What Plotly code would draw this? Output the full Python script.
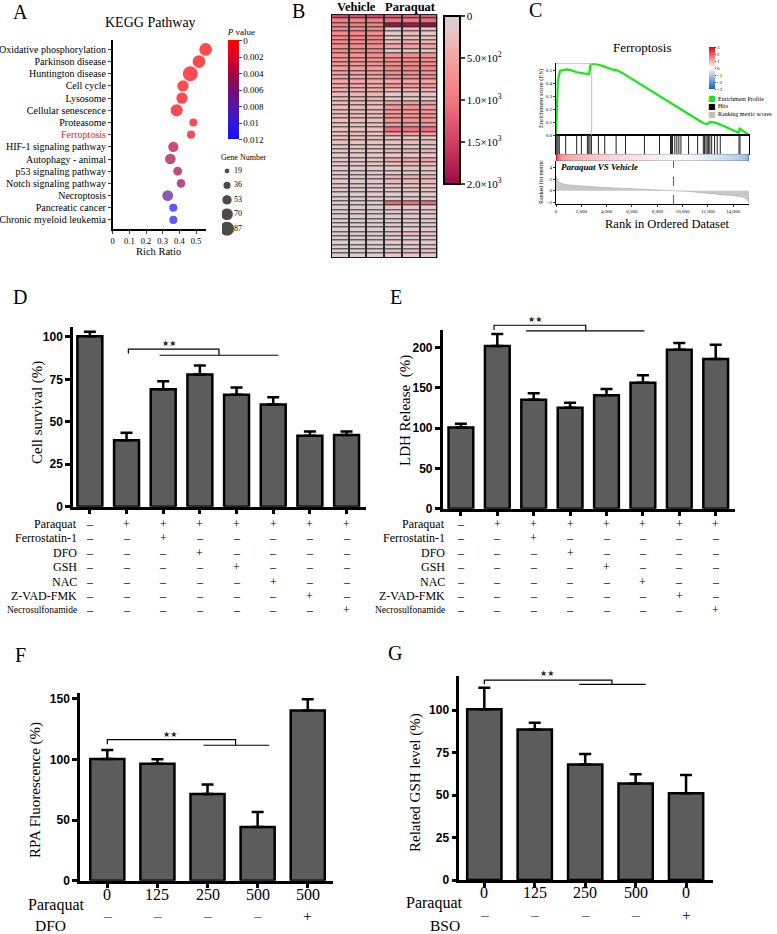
import plotly.graph_objects as go

W, H = 777, 934
SERIF = "Liberation Serif, Times New Roman, serif"
SANS = "Liberation Sans, Arial, sans-serif"


def fx(px):
    return px / W


def fy(py):
    return 1 - py / H


# ---------------- A: KEGG pathway enrichment ----------------
pathways = ["Oxidative phosphorylation", "Parkinson disease", "Huntington disease",
            "Cell cycle", "Lysosome", "Cellular senescence", "Proteasome", "Ferroptosis",
            "HIF-1 signaling pathway", "Autophagy - animal", "p53 signaling pathway",
            "Notch signaling pathway", "Necroptosis", "Pancreatic cancer",
            "Chronic myeloid leukemia"]
rich_ratio = [0.558, 0.518, 0.466, 0.422, 0.416, 0.384, 0.484, 0.47,
              0.364, 0.346, 0.39, 0.41, 0.33, 0.364, 0.364]
gene_number = [70, 70, 87, 60, 60, 66, 36, 36, 52, 55, 42, 40, 56, 36, 36]
p_value = [0.0001, 0.0002, 0.0003, 0.0004, 0.0005, 0.0006, 0.0008, 0.0014,
           0.0036, 0.0042, 0.0042, 0.0050, 0.0075, 0.0112, 0.0114]
gene_legend = [19, 36, 53, 70, 87]
p_ticks = [0, 0.002, 0.004, 0.006, 0.008, 0.01, 0.012]

# ---------------- B: heatmap (Vehicle x3, Paraquat x3) ----------------
vehicle_rows = [
    [1450, 1400, 1450], [950, 900, 950], [880, 900, 850], [850, 820, 860],
    [800, 820, 780], [820, 800, 830], [780, 760, 800], [760, 780, 740],
    [800, 780, 790], [720, 700, 740], [700, 720, 690], [650, 640, 660],
    [600, 620, 580], [560, 540, 580], [520, 500, 540], [480, 500, 460],
    [430, 450, 420], [400, 380, 420], [350, 370, 340], [330, 320, 340],
    [300, 310, 290], [320, 300, 310], [280, 300, 270], [300, 290, 310],
    [260, 280, 250], [250, 240, 260], [270, 260, 250], [240, 250, 230],
    [220, 230, 210], [250, 240, 230], [200, 210, 190], [220, 200, 210],
    [190, 200, 180], [200, 190, 210], [170, 180, 160], [180, 170, 190],
    [150, 160, 140], [160, 150, 170], [140, 150, 130], [150, 140, 160],
    [120, 130, 110], [130, 120, 140], [110, 120, 100], [120, 110, 130],
    [100, 110, 90], [110, 100, 120], [90, 100, 80], [100, 90, 110],
    [80, 90, 70], [90, 80, 100], [70, 80, 60], [80, 70, 90],
    [60, 70, 50], [70, 60, 80], [50, 60, 40], [60, 50, 70]]
paraquat_rows = [
    [1300, 1250, 1300], [1050, 1000, 1100], [1950, 1900, 2000], [200, 350, 250],
    [150, 300, 200], [100, 250, 150], [250, 400, 300], [500, 600, 550],
    [150, 250, 200], [700, 750, 700], [800, 820, 780], [750, 800, 760],
    [850, 900, 860], [700, 720, 680], [800, 780, 820], [500, 550, 520],
    [650, 600, 620], [300, 350, 320], [200, 250, 220], [150, 200, 180],
    [550, 600, 580], [650, 700, 620], [600, 620, 650], [700, 680, 720],
    [650, 700, 680], [600, 650, 620], [1100, 1050, 1100], [550, 600, 580],
    [150, 200, 180], [250, 300, 280], [200, 150, 180], [350, 400, 380],
    [150, 200, 180], [450, 500, 480], [250, 300, 280], [200, 250, 220],
    [150, 180, 160], [350, 400, 380], [300, 350, 320], [120, 150, 130],
    [200, 250, 220], [100, 130, 110], [150, 180, 160], [1100, 1050, 1100],
    [120, 150, 130], [200, 250, 220], [100, 120, 110], [150, 200, 180],
    [80, 100, 90], [120, 150, 130], [200, 250, 220], [80, 100, 90],
    [150, 180, 160], [100, 120, 110], [250, 300, 280], [100, 120, 110]]
heat_ticks = [0, 500, 1000, 1500, 2000]
heat_ticktext = ["0", "5.0×10<sup>2</sup>", "1.0×10<sup>3</sup>",
                 "1.5×10<sup>3</sup>", "2.0×10<sup>3</sup>"]

# ---------------- C: GSEA ferroptosis ----------------
es_rank = [0, 60, 150, 320, 500, 850, 1200, 1600, 2160, 2560, 2620, 2700, 2820,
           3220, 3750, 4400, 4800, 5200, 6500, 7500, 8500, 9500, 10500, 11660,
           11980, 12140, 12590, 13250, 14430, 14510, 15250]
es_score = [0, 0.26, 0.42, 0.495, 0.50, 0.505, 0.498, 0.485, 0.475, 0.47, 0.47,
            0.53, 0.55, 0.545, 0.53, 0.505, 0.50, 0.48, 0.40, 0.34, 0.28, 0.22,
            0.16, 0.09, 0.085, 0.10, 0.095, 0.07, 0.018, 0.05, 0.0]
hit_rank = [0, 80, 160, 260, 765, 1636, 2005, 2480, 2585, 2690, 2797, 3350, 3850,
            4750, 5490, 6990, 8180, 9050, 9130, 9210, 9390, 9550, 9710, 9870,
            10475, 11190, 11640, 11740, 11850, 11950, 12060, 12160, 12300, 12530,
            12740, 12980, 14460, 14540]
metric_rank = [0, 50, 150, 300, 600, 1000, 2000, 3750, 5000, 6400, 8000, 9000,
               9290, 10500, 11660, 12800, 13770, 14400, 14830, 15100, 15250]
metric_value = [2.7, 2.2, 1.7, 1.4, 1.15, 1.0, 0.8, 0.57, 0.45, 0.34, 0.18, 0.06,
                0.0, -0.12, -0.34, -0.55, -0.74, -0.95, -1.14, -1.5, -2.0]
metric_scale_ticks = [3, 2, 1, 0, -1, -2, -3]

# ---------------- D / E: treatments ----------------
treatments = ["Paraquat", "Ferrostatin-1", "DFO", "GSH", "NAC", "Z-VAD-FMK",
              "Necrosulfonamide"]
treatment_matrix = [
    [0, 1, 1, 1, 1, 1, 1, 1],
    [0, 0, 1, 0, 0, 0, 0, 0],
    [0, 0, 0, 1, 0, 0, 0, 0],
    [0, 0, 0, 0, 1, 0, 0, 0],
    [0, 0, 0, 0, 0, 1, 0, 0],
    [0, 0, 0, 0, 0, 0, 1, 0],
    [0, 0, 0, 0, 0, 0, 0, 1]]
cell_survival = [100.4, 39.2, 69.2, 77.8, 65.9, 60.2, 41.8, 42.2]
survival_err = [2.6, 4.3, 4.7, 5.3, 4.3, 4.3, 2.5, 2.1]
ldh_release = [100.8, 201.7, 135.1, 125.2, 140.5, 156.2, 197.1, 185.5]
ldh_err = [4.6, 14.8, 7.9, 6.2, 7.8, 9.1, 8.3, 17.8]

# ---------------- F / G ----------------
dose_f = ["0", "125", "250", "500", "500"]
dfo_f = [0, 0, 0, 0, 1]
rpa_fluor = [100.5, 96.6, 71.6, 44.3, 140.4]
rpa_err = [7.4, 3.6, 7.9, 12.4, 9.3]
dose_g = ["0", "125", "250", "500", "0"]
bso_g = [0, 0, 0, 0, 1]
gsh_level = [100.4, 88.6, 68.0, 56.7, 51.0]
gsh_err = [12.7, 3.9, 6.1, 5.5, 10.8]

# ---------------- traces ----------------
def dot_size(n):
    return 3.2 + n * 0.136


kegg_scale = [[0, "#1010ff"], [0.17, "#3418d8"], [0.33, "#5514a4"], [0.5, "#760c70"],
              [0.67, "#a6063e"], [0.83, "#dc0222"], [1, "#ff0000"]]
heat_scale = [[0, "#990a48"], [0.15, "#bc2a58"], [0.3, "#d84a6a"], [0.5, "#f07882"],
              [0.6, "#f48a8a"], [0.75, "#f4a4a4"], [0.9, "#e6c6c6"], [1, "#d8d2d2"]]
rb_scale = [[0, "#1560c0"], [0.5, "#ffffff"], [1, "#ee0010"]]
GREEN = "#19e619"
BAR = "#5c5c5c"

traces = []
traces.append(go.Scatter(
    x=rich_ratio, y=list(range(len(pathways))), mode="markers", cliponaxis=False,
    marker=dict(size=[dot_size(n) for n in gene_number], color=[-p for p in p_value],
                cmin=-0.012, cmax=0, colorscale=kegg_scale, line=dict(width=0),
                colorbar=dict(x=fx(227.7), xanchor="left", xpad=0, y=fy(82.5), yanchor="middle",
                              ypad=0, len=114, lenmode="pixels", thickness=11, outlinewidth=0,
                              tickvals=[-p for p in p_ticks], ticktext=[f"{p:g}" for p in p_ticks],
                              ticks="outside", ticklen=3, tickfont=dict(family=SERIF, size=9),
                              title=dict(text="<i>P</i> value", side="top",
                                         font=dict(family=SERIF, size=9)))),
    xaxis="x", yaxis="y"))
traces.append(go.Scatter(
    x=[0] * len(gene_legend), y=gene_legend, mode="markers",
    marker=dict(size=[dot_size(n) for n in gene_legend], color="black"),
    xaxis="x2", yaxis="y2"))
traces.append(go.Scatter(
    x=[0.7] * len(gene_legend), y=gene_legend, mode="text",
    text=[str(n) for n in gene_legend], textposition="middle right",
    textfont=dict(family=SERIF, size=8), xaxis="x2", yaxis="y2"))

heat = [v + p for v, p in zip(vehicle_rows, paraquat_rows)]
traces.append(go.Heatmap(
    z=[[-c for c in row] for row in heat], x=list(range(6)), y=list(range(len(heat))),
    zmin=-2000, zmax=0, colorscale=heat_scale, xgap=2, ygap=1,
    colorbar=dict(x=fx(444.3), xanchor="left", xpad=0, y=fy(100), yanchor="middle", ypad=0,
                  len=168, lenmode="pixels", thickness=16, outlinewidth=2, outlinecolor="black",
                  tickvals=[-t for t in heat_ticks], ticktext=heat_ticktext, ticks="outside",
                  ticklen=4, tickwidth=2, tickfont=dict(family=SERIF, size=11)),
    xaxis="x3", yaxis="y3"))

traces.append(go.Scatter(x=es_rank, y=es_score, mode="lines",
                         line=dict(color=GREEN, width=2.2), xaxis="x4", yaxis="y4"))
hx, hy = [], []
for h in hit_rank:
    hx += [h, h, None]
    hy += [0, 1, None]
traces.append(go.Scatter(x=hx, y=hy, mode="lines", line=dict(color="#222222", width=1),
                         xaxis="x5", yaxis="y5"))
traces.append(go.Heatmap(
    x=metric_rank, y=[0, 1], z=[metric_value, metric_value], zmin=-3, zmax=3,
    zsmooth="best", colorscale=rb_scale,
    colorbar=dict(x=fx(708.7), xanchor="left", xpad=0, y=fy(68), yanchor="middle", ypad=0,
                  len=42, lenmode="pixels", thickness=6, outlinewidth=0,
                  tickvals=metric_scale_ticks, ticks="outside", ticklen=1.5,
                  tickfont=dict(family=SERIF, size=5)),
    xaxis="x6", yaxis="y6"))
traces.append(go.Scatter(x=metric_rank, y=metric_value, mode="lines", fill="tozeroy",
                         fillcolor="#c8c8c8", line=dict(color="#a8a8a8", width=0.6),
                         xaxis="x7", yaxis="y7"))


def bar_trace(vals, errs, xa, ya):
    n = len(vals)
    return go.Bar(x=list(range(n)), y=vals, width=0.68,
                  marker=dict(color=BAR, line=dict(color="black", width=2.5)),
                  error_y=dict(type="data", array=errs, arrayminus=[0] * n, symmetric=False,
                               color="black", thickness=2.5, width=6),
                  xaxis=xa, yaxis=ya)


traces.append(bar_trace(cell_survival, survival_err, "x8", "y8"))
traces.append(bar_trace(ldh_release, ldh_err, "x9", "y9"))
traces.append(bar_trace(rpa_fluor, rpa_err, "x10", "y10"))
traces.append(bar_trace(gsh_level, gsh_err, "x11", "y11"))

fig = go.Figure(data=traces)

# ---------------- axes ----------------
hidden = dict(visible=False, showgrid=False, zeroline=False, automargin=False)
thin = dict(showline=True, linecolor="black", showgrid=False, zeroline=False, automargin=False)

# bar panels: (bottom px, top px, range min, range max) of each y axis
bar_geom = {
    "y8": (506.7, 326.7, 0, 106),
    "y9": (508.7, 330, 0, 221.5),
    "y10": (880.7, 693.3, 0, 154.7),
    "y11": (880, 676, 0, 120),
}


def val_to_paper(ya, v):
    bottom, top, r0, r1 = bar_geom[ya]
    return fy(bottom - (v - r0) / (r1 - r0) * (bottom - top))


def bar_x(dom, rng, n, anchor):
    return dict(domain=dom, range=rng, tickvals=list(range(n)), showticklabels=False,
                ticks="outside", ticklen=5, tickwidth=2.5, tickcolor="black", showline=True,
                linecolor="black", linewidth=2.5, showgrid=False, zeroline=False, anchor=anchor,
                automargin=False)


def bar_y(ya, tv, anchor):
    bottom, top, r0, r1 = bar_geom[ya]
    return dict(domain=[fy(bottom), fy(top)], range=[r0, r1], tickvals=tv, ticks="outside",
                ticklen=5, tickwidth=2.5, tickcolor="black", showline=True, linecolor="black",
                linewidth=2.5, showgrid=False, zeroline=False, anchor=anchor, automargin=False,
                tickfont=dict(family=SANS, size=12, weight="bold"))


kegg_labels = [f"<span style='color:#ee1c1c'>{p}</span>" if p == "Ferroptosis" else p
               for p in pathways]

fig.update_layout(
    template="none",
    width=W, height=H, margin=dict(l=0, r=0, t=0, b=0, autoexpand=False), showlegend=False,
    paper_bgcolor="white", plot_bgcolor="white",
    font=dict(family=SERIF, color="black"),
    xaxis=dict(domain=[fx(112.7), fx(206)], range=[0, 0.56],
               tickvals=[0, 0.1, 0.2, 0.3, 0.4, 0.5], ticktext=["0", "0.1", "0.2", "0.3", "0.4", "0.5"],
               ticks="outside", ticklen=3, linewidth=1.5, tickfont=dict(size=8.5), anchor="y", **thin),
    yaxis=dict(domain=[fy(229.3), fy(40)], range=[14.77, -0.77], tickvals=list(range(len(pathways))),
               ticktext=kegg_labels, ticks="outside", ticklen=3, linewidth=1.5,
               tickfont=dict(size=10), anchor="x", **thin),
    xaxis2=dict(domain=[fx(222), fx(262)], range=[-0.5, 3.5], anchor="y2", **hidden),
    yaxis2=dict(domain=[fy(236), fy(164)], range=[95.6, 10.8], anchor="x2", **hidden),
    xaxis3=dict(domain=[fx(331), fx(437.3)], range=[-0.5, 5.5], anchor="y3", **hidden),
    yaxis3=dict(domain=[fy(258), fy(14.3)], range=[len(heat) - 0.5, -0.5], anchor="x3", **hidden),
    xaxis4=dict(domain=[fx(556), fx(749)], range=[0, 15250], showticklabels=False, ticks="",
                linewidth=1, anchor="y4", **thin),
    yaxis4=dict(domain=[fy(135), fy(63.3)], range=[0, 0.552], tickvals=[0, 0.1, 0.2, 0.3, 0.4, 0.5],
                tickformat=".1f", ticks="outside", ticklen=2, linewidth=1,
                tickfont=dict(size=5), anchor="x4", **thin),
    xaxis5=dict(domain=[fx(556), fx(749)], range=[0, 15250], showticklabels=False, ticks="",
                mirror=True, linewidth=0.8, anchor="y5", **thin),
    yaxis5=dict(domain=[fy(154), fy(135)], range=[0, 1], showticklabels=False, ticks="",
                mirror=True, linewidth=0.8, anchor="x5", **thin),
    xaxis6=dict(domain=[fx(556), fx(749)], range=[0, 15250], anchor="y6", **hidden),
    yaxis6=dict(domain=[fy(161), fy(154)], range=[-0.5, 1.5], anchor="x6", **hidden),
    xaxis7=dict(domain=[fx(556), fx(749)], range=[0, 15250], tickvals=list(range(0, 14001, 2000)),
                tickformat=",", ticks="outside", ticklen=2, linewidth=1,
                tickfont=dict(size=5), anchor="y7", **thin),
    yaxis7=dict(domain=[fy(204), fy(161)], range=[-2.3, 5.15], tickvals=[-2, 0, 2, 4],
                ticks="outside", ticklen=2, linewidth=1, tickfont=dict(size=5), anchor="x7", **thin),
    xaxis8=bar_x([fx(73), fx(366)], [-0.46, 7.53], 8, "y8"),
    yaxis8=bar_y("y8", [0, 25, 50, 75, 100], "x8"),
    xaxis9=bar_x([fx(442.7), fx(735)], [-0.5, 7.53], 8, "y9"),
    yaxis9=bar_y("y9", [0, 50, 100, 150, 200], "x9"),
    xaxis10=bar_x([fx(80), fx(333.3)], [-0.545, 4.51], 5, "y10"),
    yaxis10=bar_y("y10", [0, 50, 100, 150], "x10"),
    xaxis11=bar_x([fx(459.3), fx(713.3)], [-0.496, 4.54], 5, "y11"),
    yaxis11=bar_y("y11", [0, 25, 50, 75, 100], "x11"),
)

# ---------------- shapes ----------------
shapes = []
shapes.append(dict(type="rect", xref="x3", yref="y3", x0=-0.5, x1=5.5, y0=-0.5,
                   y1=len(heat) - 0.5, fillcolor="#2a2a2a", line=dict(width=0), layer="below"))
shapes.append(dict(type="rect", xref="x3", yref="y3", x0=-0.5, x1=5.5, y0=-0.5,
                   y1=len(heat) - 0.5, line=dict(color="black", width=1.5)))
peak = es_score.index(max(es_score))
shapes.append(dict(type="line", xref="x4", yref="y4", x0=es_rank[peak], x1=es_rank[peak],
                   y0=0, y1=es_score[peak], line=dict(color="#bbbbbb", width=1)))
shapes.append(dict(type="line", xref="x4", yref="y4", x0=0, x1=es_rank[peak],
                   y0=es_score[peak], y1=es_score[peak], line=dict(color="#bbbbbb", width=1)))
zero_cross = metric_rank[next(i for i, v in enumerate(metric_value) if v <= 0)]
shapes.append(dict(type="line", xref="x7", yref="y7", x0=zero_cross, x1=zero_cross,
                   y0=-2.3, y1=5.15, line=dict(color="#333333", width=0.8, dash="dash")))
shapes.append(dict(type="rect", xref="x6", yref="y6", x0=0, x1=15250, y0=-0.5, y1=1.5,
                   line=dict(color="#555555", width=0.6)))

# significance brackets: x in bar index units, y in the panel's value units
brackets = [
    ("x8", "y8", 1.05, 3.52, 92.8, 90.2, 89.2, 1.9, 5.14, 2.15, 96.3),
    ("x9", "y9", 0.91, 3.43, 227.4, 221.5, 220.3, 1.79, 5.04, 2.03, 234),
    ("x10", "y10", 0, 2.56, 116.4, 112.6, 111.8, 1.92, 3.23, 1.26, 120.5),
    ("x11", "y11", 0, 2.53, 117.6, 115.1, 115.1, 1.88, 3.2, 1.24, 121.2),
]
annotations = []
for xa, ya, x0, x1, top, lend, low, lx0, lx1, sx, sy in brackets:
    pt, pl, pw = val_to_paper(ya, top), val_to_paper(ya, lend), val_to_paper(ya, low)
    shapes.append(dict(type="path", xref=xa, yref="paper",
                       path=f"M {x0},{pl} L {x0},{pt} L {x1},{pt} L {x1},{pw}",
                       line=dict(color="black", width=1.2)))
    shapes.append(dict(type="line", xref=xa, yref="paper", x0=lx0, x1=lx1, y0=pw, y1=pw,
                       line=dict(color="black", width=1.2)))
    annotations.append(dict(xref=xa, yref="paper", x=sx, y=val_to_paper(ya, sy), text="★★",
                            showarrow=False, yanchor="middle",
                            font=dict(family="DejaVu Sans", size=8, color="#222222")))
fig.update_layout(shapes=shapes)


def note(text, x, y, size, xanchor="center", angle=0, **kw):
    annotations.append(dict(xref="paper", yref="paper", x=fx(x), y=fy(y), text=text,
                            showarrow=False, xanchor=xanchor, yanchor="middle",
                            textangle=angle, font=dict(family=SERIF, size=size, **kw)))


# panel letters
for letter, lx, ly in [("A", 20, 12), ("B", 298, 11), ("C", 535, 10), ("D", 20, 297),
                       ("E", 396, 297), ("F", 20, 655), ("G", 395, 653)]:
    note(letter, lx, ly, 20)

# A texts
note("KEGG Pathway", 150, 23, 14)
note("Rich Ratio", 158, 251, 10.5)
note("Gene Number", 243, 158, 8)

# B texts
note("<b>Vehicle</b>", 356, 7, 12.5)
note("<b>Paraquat</b>", 410, 7, 12.5)

# C texts
note("Ferroptosis", 642, 48, 13)
note("Enrichment score (ES)", 541, 99, 6.5, angle=-90)
note("Ranked list metric", 541, 182, 6, angle=-90)
note("<b><i>Paraquat VS Vehicle</i></b>", 559, 167, 9, xanchor="left")
note("Rank in Ordered Dataset", 667, 224, 12.5)
for i, (name, col) in enumerate([("Enrichment Profile", GREEN), ("Hits", "black"),
                                 ("Ranking metric scores", "#c0c0c0")]):
    annotations.append(dict(xref="paper", yref="paper", x=fx(711.5), y=fy(98.7 + i * 7.8),
                            text="■", showarrow=False, xanchor="center", yanchor="middle",
                            font=dict(family="DejaVu Sans", size=8, color=col)))
    note(name, 716, 98.7 + i * 7.8, 6, xanchor="left")

# y-axis titles of bar panels
note("Cell survival (%)", 37, 413, 15, angle=-90)
note("LDH Release  (%)", 405, 410, 15, angle=-90)
note("RPA Fluorescence (%)", 35, 790, 15, angle=-90)
note("Related GSH level (%)", 415, 783, 15, angle=-90)

# treatment tables for D and E
for xa, label_x in [("x8", 79), ("x9", 447)]:
    for r, name in enumerate(treatments):
        ty = 524 + r * 14.38
        note(name, label_x, ty, 9.5 if name == "Necrosulfonamide" else 12, xanchor="right")
        for c, flag in enumerate(treatment_matrix[r]):
            annotations.append(dict(xref=xa, yref="paper", x=c, y=fy(ty),
                                    text="+" if flag else "–", showarrow=False,
                                    font=dict(family=SERIF, size=12)))

# dose rows for F and G
for xa, doses, extra, extra_name, px_par, px_ext, y1, y2 in [
        ("x10", dose_f, dfo_f, "DFO", 87, 68, 905, 925.5),
        ("x11", dose_g, bso_g, "BSO", 465, 462, 903, 925)]:
    note("Paraquat", px_par, y1, 16, xanchor="right")
    note(extra_name, px_ext, y2, 15.5, xanchor="right")
    for c, d in enumerate(doses):
        annotations.append(dict(xref=xa, yref="paper", x=c, y=fy(y1), text=d, showarrow=False,
                                font=dict(family=SERIF, size=16)))
        annotations.append(dict(xref=xa, yref="paper", x=c, y=fy(y2),
                                text="+" if extra[c] else "–", showarrow=False,
                                font=dict(family=SERIF, size=15.5)))

fig.update_layout(annotations=annotations)
# the page body has a default 8px margin; drop it so the figure fills the window exactly
fig.write_html("out.html", config={"displayModeBar": False},
               post_script="document.body.style.margin='0';document.body.style.overflow='hidden';")
